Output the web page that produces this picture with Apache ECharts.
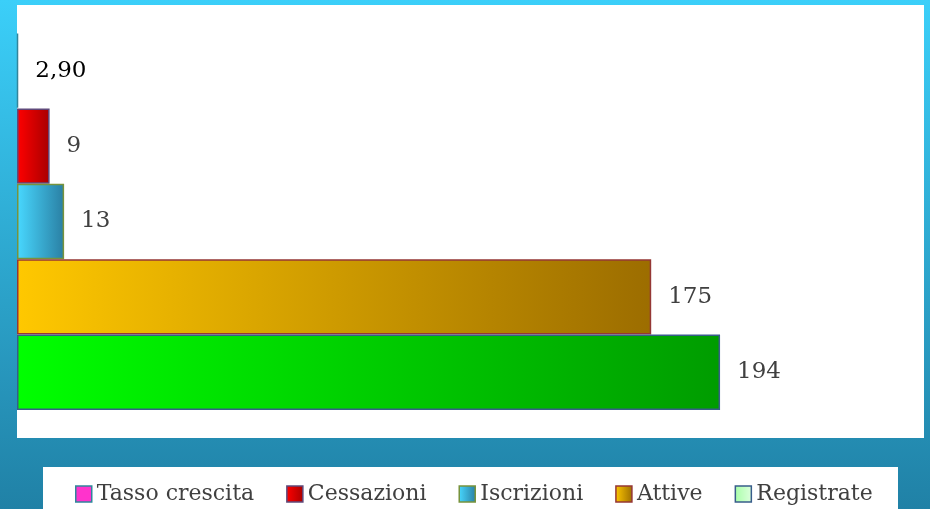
<!DOCTYPE html>
<html>
<head>
<meta charset="utf-8">
<title>Imprese</title>
<script src="https://cdn.jsdelivr.net/npm/echarts@6/dist/echarts.min.js"></script>
<style>
  html, body { margin: 0; padding: 0; }
  #chart { width: 930px; height: 509px; }
</style>
</head>
<body>
<div id="chart"></div>
<script>
// dati (ordine legenda = dall'alto verso il basso)
var seriesNames = ['Tasso crescita', 'Cessazioni', 'Iscrizioni', 'Attive', 'Registrate'];
var seriesValues = [0.29, 9, 13, 175, 194];
var valueLabels = ['2,90', '9', '13', '175', '194'];
var categories = [''];

// colori: [sinistra, destra, bordo]
var barColors = [
  ['#FF33CC', '#FF33CC', '#31859C'],
  ['#FF0000', '#A80000', '#5F497A'],
  ['#48D8FF', '#2A7FA3', '#77933C'],
  ['#FFC800', '#9C6D00', '#953735'],
  ['#00FF00', '#009C00', '#385D8A']
];
var legendFill = [
  ['#FF33CC', '#FF33CC'],
  ['#FF0000', '#A80000'],
  ['#48D8FF', '#2A7FA3'],
  ['#FFC800', '#9C6D00'],
  ['#A8FFA8', '#DDFFDD']
];

function hGrad(c1, c2) {
  return {
    type: 'linear', x: 0, y: 0, x2: 1, y2: 0,
    colorStops: [{ offset: 0, color: c1 }, { offset: 1, color: c2 }]
  };
}

var FONT = 'DejaVu Serif';

var series = [];
var legendData = [];
for (var i = 0; i < seriesNames.length; i++) {
  var c = barColors[i];
  series.push({
    name: seriesNames[i],
    type: 'bar',
    barGap: '0%',
    barCategoryGap: '0%',
    data: [seriesValues[i]],
    itemStyle: {
      color: hGrad(c[0], c[1]),
      borderColor: c[2],
      borderWidth: 1.5
    },
    label: {
      show: true,
      position: 'right',
      distance: 17,
      fontFamily: FONT,
      fontSize: 23,
      color: i === 0 ? '#000000' : '#404040',
      formatter: (function(txt) { return function() { return txt; }; })(valueLabels[i])
    }
  });
  legendData.push({
    name: seriesNames[i],
    itemStyle: {
      color: hGrad(legendFill[i][0], legendFill[i][1]),
      borderColor: c[2],
      borderWidth: 1.5
    }
  });
}

var chart = echarts.init(document.getElementById('chart'));

var option = {
  animation: false,
  graphic: [
    {
      type: 'rect', z: -10, silent: true,
      shape: { x: 0, y: 0, width: 930, height: 509 },
      style: {
        fill: {
          type: 'linear', x: 0, y: 0, x2: 0, y2: 1,
          colorStops: [
            { offset: 0, color: '#3BCFF9' },
            { offset: 1, color: '#2081A6' }
          ]
        }
      }
    },
    // area del grafico
    { type: 'rect', z: -5, silent: true, shape: { x: 17, y: 5, width: 907, height: 433 }, style: { fill: '#FFFFFF' } },
    // riquadro legenda
    { type: 'rect', z: -5, silent: true, shape: { x: 43, y: 467, width: 855, height: 42 }, style: { fill: '#FFFFFF' } }
  ],
  legend: {
    data: legendData,
    left: 75,
    top: 483,
    padding: 0,
    itemWidth: 16,
    itemHeight: 16,
    itemGap: 32,
    icon: 'rect',
    textStyle: { fontFamily: FONT, fontSize: 22, color: '#404040' }
  },
  grid: { left: 17, top: 33, width: 906, height: 377 },
  xAxis: { type: 'value', min: 0, max: 250, show: false },
  yAxis: { type: 'category', data: categories, show: false, inverse: true },
  series: series
};

chart.setOption(option);
</script>
</body>
</html>
